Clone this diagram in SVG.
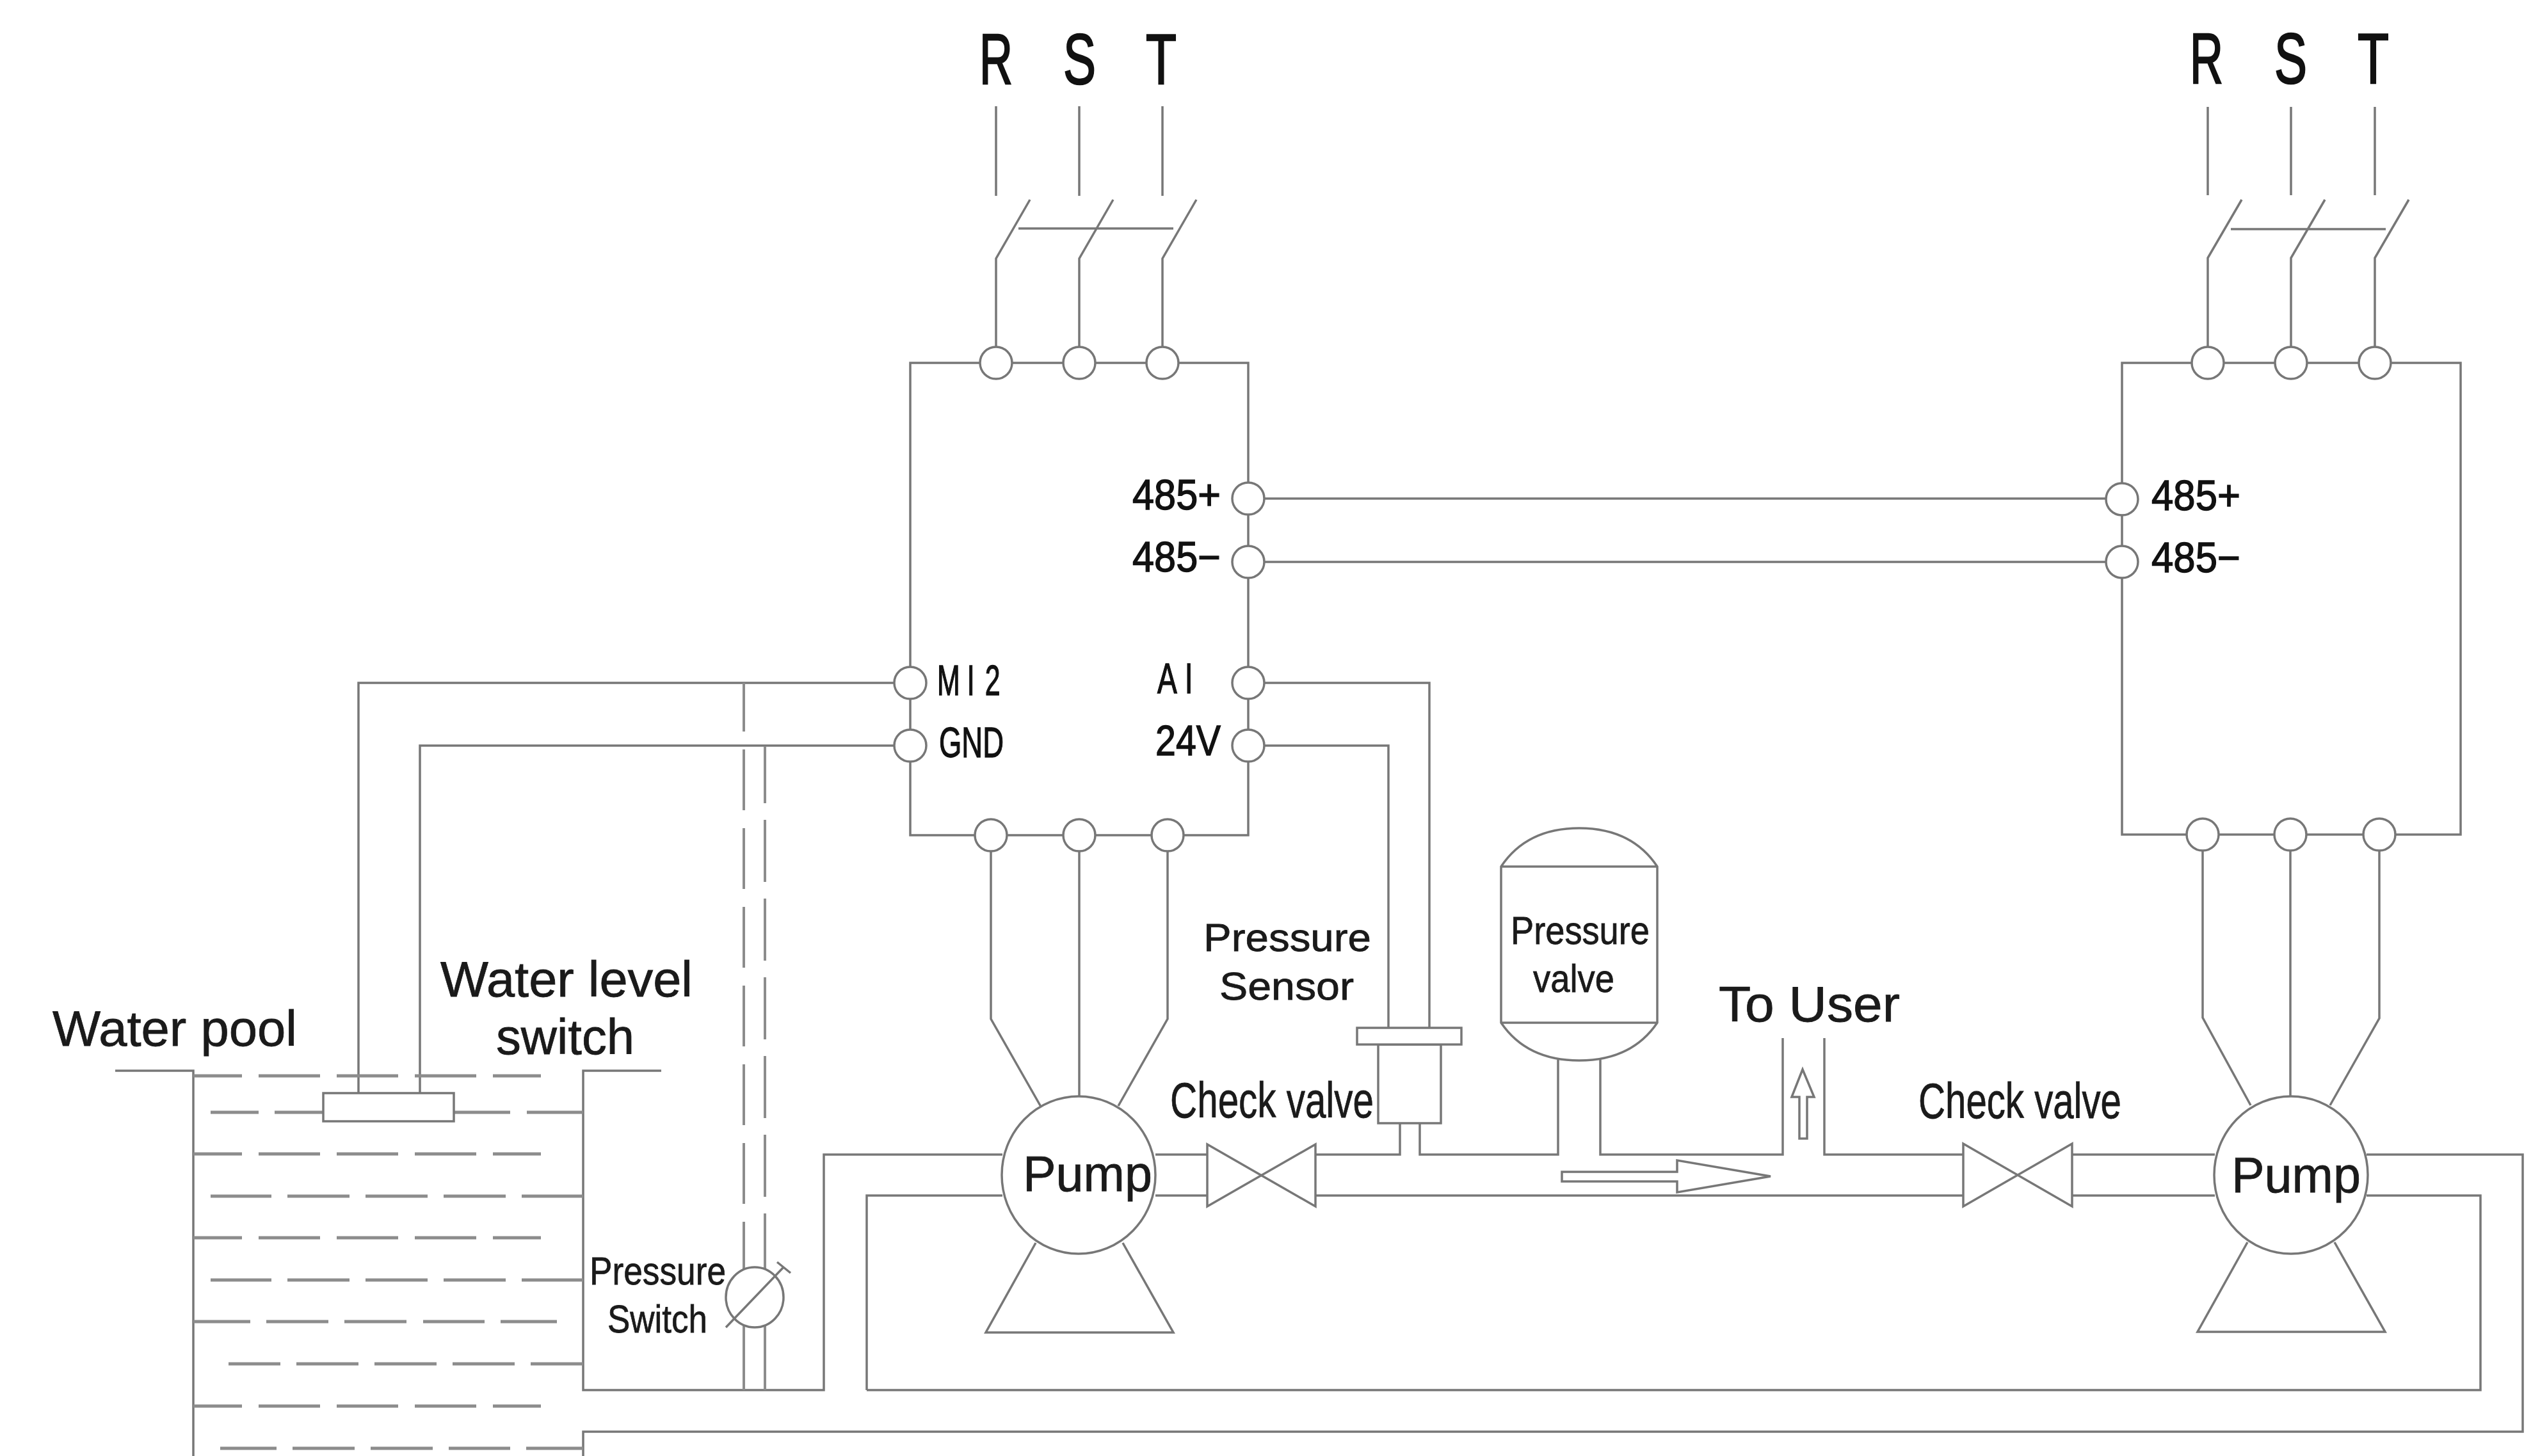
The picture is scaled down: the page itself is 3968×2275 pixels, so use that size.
<svg xmlns="http://www.w3.org/2000/svg" width="3968" height="2275" viewBox="0 0 3968 2275">
<style>
.l{fill:none;stroke:#777;stroke-width:3.5;stroke-linejoin:miter}
.d{fill:none;stroke:#8c8c8c;stroke-width:5}
.n{fill:#fff;stroke:#777;stroke-width:3.5}
text{font-family:"Liberation Sans",Arial,sans-serif;fill:#1a1a1a;stroke:#1a1a1a;stroke-width:.8}
.rst{font-size:112px;fill:#111;stroke:#111;stroke-width:2.5}
.t{font-size:66px;fill:#111;stroke:#111;stroke-width:1.4}
.m{font-size:62px}
.b{font-size:78px}
</style>
<rect width="3968" height="2275" fill="#fff"/>
<g id="connectors" class="l">
<path class="l" d="M1556 166V306M1686 166V306M1816 166V306M1556 567V404L1609 312M1686 567V404L1739 312M1816 567V404L1869 312M1591 357H1833"/>
<path class="l" d="M3449 167V305M3579 167V305M3710 167V305M3449 567V403L3502 312M3579 567V403L3632 312M3710 567V403L3763 312M3485 358H3727"/>
<path class="l" d="M1950 779H3315M1950 878H3315"/>
<path class="l" d="M1422 1067H560V1708M1422 1165H656V1708"/>
<path class="l" d="M1950 1067H2233V1606M1950 1165H2169V1606"/>
<path class="l" d="M1548 1305V1592L1626 1729M1686 1305V1713M1824 1305V1592L1747 1728"/>
<path class="l" d="M3441 1304V1590L3516 1727M3578 1304V1713M3717 1304V1591L3640 1727"/>
<path class="l" d="M180 1673H302V2275M1033 1673H911V2172H1287V1804H1566M1354 2172V1868H1566"/>
<path class="l" d="M911 2275V2237H3941V1804H3697M1354 2172H3875V1868H3697"/>
<path class="l" d="M1805 1804H1886M2055 1804H2187V1755M2218 1755V1804H2434V1656M2500 1656V1804H2785V1622M2850 1622V1804H3067M3237 1804H3460"/>
<path class="l" d="M1805 1868H1886M2055 1868H3067M3237 1868H3460"/>
<path class="d" style="stroke-width:4" d="M1162 1067V1143M1162 1171V1266M1162 1294V1389M1162 1417V1512M1162 1540V1635M1162 1663V1758M1162 1786V1881M1162 1909V1985M1162 2070V2172"/>
<path class="d" style="stroke-width:4" d="M1195 1166V1255M1195 1281V1378M1195 1404V1501M1195 1527V1624M1195 1650V1747M1195 1773V1870M1195 1896V1985M1195 2070V2172"/>
</g>
<g id="water" class="d">
<path class="d" d="M302 1681H378M404 1681H500M526 1681H622M648 1681H744M770 1681H845"/>
<path class="d" d="M329 1738H404M429 1738H505M710 1738H797M823 1738H911"/>
<path class="d" d="M302 1803H378M404 1803H500M526 1803H622M648 1803H744M770 1803H845"/>
<path class="d" d="M329 1869H424M449 1869H546M571 1869H668M693 1869H790M815 1869H911"/>
<path class="d" d="M302 1934H378M404 1934H500M526 1934H622M648 1934H744M770 1934H845"/>
<path class="d" d="M329 2000H424M449 2000H546M571 2000H668M693 2000H790M815 2000H911"/>
<path class="d" d="M302 2065H391M416 2065H513M538 2065H635M661 2065H757M782 2065H870"/>
<path class="d" d="M357 2131H438M463 2131H560M585 2131H682M707 2131H804M829 2131H911"/>
<path class="d" d="M302 2197H378M404 2197H500M526 2197H622M648 2197H744M770 2197H845"/>
<path class="d" d="M344 2263H432M457 2263H554M579 2263H676M701 2263H797M822 2263H911"/>
</g>
<g id="vfd-left">
<rect class="l" x="1422" y="567" width="528" height="738"/>
<g class="n">
<circle cx="1556" cy="567" r="25"/><circle cx="1686" cy="567" r="25"/><circle cx="1816" cy="567" r="25"/>
<circle cx="1950" cy="779" r="25"/><circle cx="1950" cy="878" r="25"/><circle cx="1950" cy="1067" r="25"/><circle cx="1950" cy="1165" r="25"/>
<circle cx="1422" cy="1067" r="25"/><circle cx="1422" cy="1165" r="25"/>
<circle cx="1548" cy="1305" r="25"/><circle cx="1686" cy="1305" r="25"/><circle cx="1824" cy="1305" r="25"/>
</g>
<text class="rst" x="1530" y="131" textLength="52" lengthAdjust="spacingAndGlyphs">R</text>
<text class="rst" x="1661" y="131" textLength="51" lengthAdjust="spacingAndGlyphs">S</text>
<text class="rst" x="1790" y="131" textLength="48" lengthAdjust="spacingAndGlyphs">T</text>
<text class="t" x="1769" y="796" textLength="138" lengthAdjust="spacingAndGlyphs">485+</text>
<text class="t" x="1769" y="893" textLength="138" lengthAdjust="spacingAndGlyphs">485−</text>
<text class="t" transform="translate(1464 1086) scale(.65 1)" x="0 72 115" y="0">MI2</text>
<text class="t" x="1467" y="1183" textLength="101" lengthAdjust="spacingAndGlyphs">GND</text>
<text class="t" transform="translate(1808 1083) scale(.7 1)" x="0 61" y="0">AI</text>
<text class="t" x="1805" y="1180" textLength="102" lengthAdjust="spacingAndGlyphs">24V</text>
</g>
<g id="vfd-right">
<rect class="l" x="3315" y="567" width="529" height="737"/>
<g class="n">
<circle cx="3449" cy="567" r="25"/><circle cx="3579" cy="567" r="25"/><circle cx="3710" cy="567" r="25"/>
<circle cx="3315" cy="780" r="25"/><circle cx="3315" cy="878" r="25"/>
<circle cx="3441" cy="1304" r="25"/><circle cx="3578" cy="1304" r="25"/><circle cx="3717" cy="1304" r="25"/>
</g>
<text class="rst" x="3421" y="130" textLength="52" lengthAdjust="spacingAndGlyphs">R</text>
<text class="rst" x="3553" y="130" textLength="51" lengthAdjust="spacingAndGlyphs">S</text>
<text class="rst" x="3683" y="130" textLength="49" lengthAdjust="spacingAndGlyphs">T</text>
<text class="t" x="3361" y="797" textLength="139" lengthAdjust="spacingAndGlyphs">485+</text>
<text class="t" x="3361" y="894" textLength="139" lengthAdjust="spacingAndGlyphs">485−</text>
</g>
<g id="pump-left">
<path class="l" d="M1618 1942L1540 2082H1833L1754 1942"/>
<ellipse class="n" cx="1685" cy="1836" rx="120" ry="123"/>
<text class="b" x="1598" y="1861" textLength="202" lengthAdjust="spacingAndGlyphs">Pump</text>
</g>
<g id="pump-right">
<path class="l" d="M3511 1941L3433 2081H3726L3647 1941"/>
<ellipse class="n" cx="3579" cy="1836" rx="120" ry="123"/>
<text class="b" x="3486" y="1863" textLength="202" lengthAdjust="spacingAndGlyphs">Pump</text>
</g>
<g id="check-valve-left">
<path class="l" d="M1886 1788V1885L2055 1788V1885Z"/>
<text class="b" x="1828" y="1746" textLength="318" lengthAdjust="spacingAndGlyphs">Check valve</text>
</g>
<g id="check-valve-right">
<path class="l" d="M3067 1787V1885L3237 1787V1885Z"/>
<text class="b" x="2997" y="1747" textLength="317" lengthAdjust="spacingAndGlyphs">Check valve</text>
</g>
<g id="pressure-sensor">
<rect class="n" x="2153" y="1632" width="98" height="123"/>
<rect class="n" x="2120" y="1606" width="163" height="26"/>
<text class="m" x="1880" y="1486" textLength="262" lengthAdjust="spacingAndGlyphs">Pressure</text>
<text class="m" x="1905" y="1562" textLength="210" lengthAdjust="spacingAndGlyphs">Sensor</text>
</g>
<g id="pressure-valve">
<path class="l" d="M2345 1354Q2385 1294 2467 1294T2589 1354V1598Q2549 1657 2467 1657T2345 1598ZM2345 1354H2589M2345 1598H2589"/>
<text class="m" x="2360" y="1475" textLength="217" lengthAdjust="spacingAndGlyphs">Pressure</text>
<text class="m" x="2395" y="1550" textLength="127" lengthAdjust="spacingAndGlyphs">valve</text>
</g>
<g id="flow-arrows">
<path class="l" d="M2440 1831H2620V1813L2766 1838L2620 1863V1846H2440Z"/>
<path class="l" d="M2811 1779V1714H2799L2816 1671L2834 1714H2823V1779Z"/>
<text class="b" x="2685" y="1596" textLength="283" lengthAdjust="spacingAndGlyphs">To User</text>
</g>
<g id="water-level-switch">
<rect class="n" x="505" y="1708" width="204" height="44"/>
<text class="b" x="688" y="1557" textLength="394" lengthAdjust="spacingAndGlyphs">Water level</text>
<text class="b" x="775" y="1647" textLength="216" lengthAdjust="spacingAndGlyphs">switch</text>
</g>
<g id="water-pool">
<text class="b" x="82" y="1634" textLength="382" lengthAdjust="spacingAndGlyphs">Water pool</text>
</g>
<g id="pressure-switch">
<ellipse class="n" cx="1179" cy="2027" rx="45" ry="47"/>
<path class="l" d="M1134 2074L1225 1979M1214 1972L1235 1989"/>
<text class="m" x="921" y="2007" textLength="213" lengthAdjust="spacingAndGlyphs">Pressure</text>
<text class="m" x="949" y="2082" textLength="156" lengthAdjust="spacingAndGlyphs">Switch</text>
</g>
</svg>
